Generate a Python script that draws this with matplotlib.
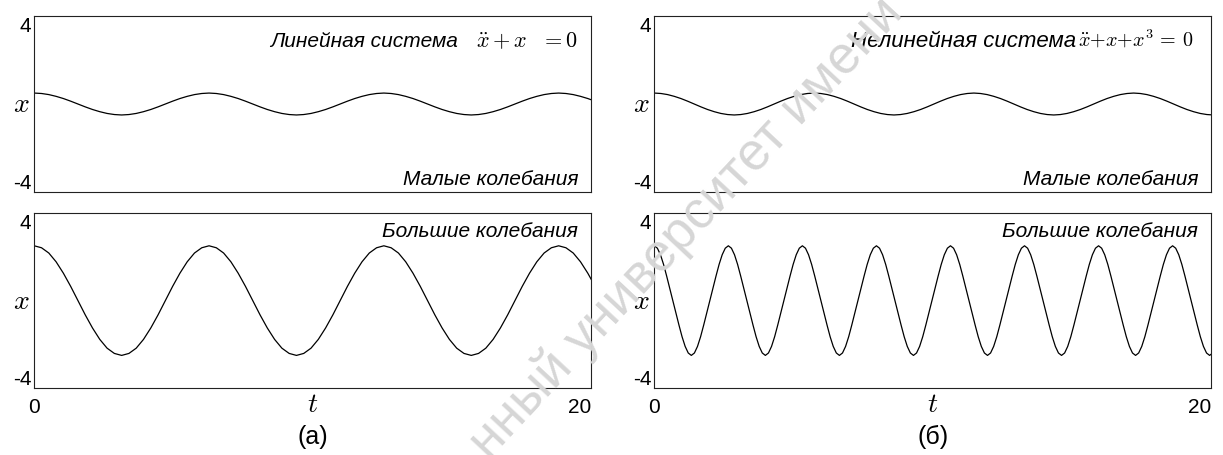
import numpy as np
import matplotlib.pyplot as plt

plt.rcParams['font.family'] = ['Liberation Sans', 'DejaVu Sans']
plt.rcParams['mathtext.fontset'] = 'cm'

t_lim = [0, 20]
x_lim = [-4, 4]

# one period of every curve, read at 1/24 steps of the period, starting at t = 0
lin_small_cycle = [0.50, 0.48, 0.43, 0.35, 0.25, 0.13, 0.00, -0.13, -0.25, -0.35, -0.43, -0.48,
                   -0.50, -0.48, -0.43, -0.35, -0.25, -0.13, 0.00, 0.13, 0.25, 0.35, 0.43, 0.48]
lin_big_cycle = [2.50, 2.41, 2.17, 1.77, 1.25, 0.65, 0.00, -0.65, -1.25, -1.77, -2.17, -2.41,
                 -2.50, -2.41, -2.17, -1.77, -1.25, -0.65, 0.00, 0.65, 1.25, 1.77, 2.17, 2.41]
nonlin_small_cycle = [0.50, 0.48, 0.43, 0.35, 0.25, 0.13, 0.00, -0.13, -0.25, -0.35, -0.43, -0.48,
                      -0.50, -0.48, -0.43, -0.35, -0.25, -0.13, 0.00, 0.13, 0.25, 0.35, 0.43, 0.48]
nonlin_big_cycle = [2.50, 2.39, 2.09, 1.65, 1.12, 0.56, 0.00, -0.56, -1.12, -1.65, -2.09, -2.39,
                    -2.50, -2.39, -2.09, -1.65, -1.12, -0.56, 0.00, 0.56, 1.12, 1.65, 2.09, 2.39]

# periods read from the peak spacing
lin_period = 6.28
nonlin_small_period = 5.74
nonlin_big_period = 2.66


def series(cycle, period):
    n = int(t_lim[1] / period * len(cycle)) + 2
    t = np.arange(n) * period / len(cycle)
    return t, np.resize(cycle, n)


fig = plt.figure(figsize=(12.23, 4.56), dpi=100)

fig.text(0.561, 0.50, 'нный университет имени', rotation=47, fontsize=38,
         color='#d6d6d6', ha='center', va='center', rotation_mode='anchor', zorder=0)

cols = [0.0280, 0.5350]
rows = [0.5774, 0.1463]
w, h = 0.4552, 0.3846

curves = [
    [series(lin_small_cycle, lin_period), series(lin_big_cycle, lin_period)],
    [series(nonlin_small_cycle, nonlin_small_period), series(nonlin_big_cycle, nonlin_big_period)],
]
# label, label size, equation, eq size, where the label ends, where the equation ends
titles = [('Линейная система', 15, r'$\ddot{x} + x\;\;\, = 0$', 16, 0.761, 0.977),
          ('Нелинейная система', 16, r'$\ddot{x}{+}x{+}x^3{\,=\,}0$', 14.5, 0.757, 0.968)]

for c in range(2):
    for r in range(2):
        ax = fig.add_axes([cols[c], rows[r], w, h])
        ax.set_facecolor('none')
        t, x = curves[c][r]
        ax.plot(t, x, color='black', linewidth=0.9)
        ax.set_xlim(t_lim)
        ax.set_ylim(x_lim)
        ax.set_yticks(x_lim)
        ax.set_yticklabels(['-4', '4'])
        ax.tick_params(length=0, labelsize=15, pad=2)
        ylabs = ax.get_yticklabels()
        ylabs[0].set_va('bottom')
        ylabs[1].set_va('top')
        for s in ax.spines.values():
            s.set_linewidth(0.8)
            s.set_color('#222222')
        ax.text(-0.023, 0.5, '$x$', transform=ax.transAxes, fontsize=20,
                ha='center', va='center')
        if r == 0:
            label, lsize, eq, esize, lx, ex = titles[c]
            ax.set_xticks([])
            ax.text(lx, 0.831, label, transform=ax.transAxes,
                    fontsize=lsize, style='italic', ha='right', va='baseline')
            ax.text(ex, 0.831, eq, transform=ax.transAxes,
                    fontsize=esize, ha='right', va='baseline')
            ax.text(0.977, 0.044, 'Малые колебания', transform=ax.transAxes,
                    fontsize=15, style='italic', ha='right', va='baseline')
        else:
            ax.set_xticks(t_lim)
            ax.set_xticklabels(['0', '20'])
            ax.tick_params(axis='x', pad=6)
            ax.get_xticklabels()[1].set_ha('right')
            ax.text(0.977, 0.869, 'Большие колебания', transform=ax.transAxes,
                    fontsize=15, style='italic', ha='right', va='baseline')
            ax.text(0.5, -0.13, '$t$', transform=ax.transAxes, fontsize=20,
                    ha='center', va='baseline')
            ax.text(0.5, -0.31, ['(а)', '(б)'][c], transform=ax.transAxes, fontsize=18,
                    ha='center', va='baseline')

fig.savefig('out.png', dpi=100)
